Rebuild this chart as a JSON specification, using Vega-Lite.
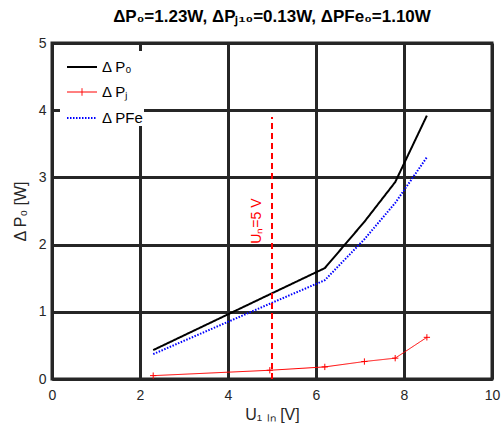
{
  "$schema": "https://vega.github.io/schema/vega-lite/v6.json",
  "width": 440,
  "height": 336,
  "autosize": "none",
  "padding": {"left": 52, "top": 43, "right": 10, "bottom": 53},
  "background": "white",
  "title": {
    "text": "ΔP₀=1.23W, ΔPⱼ₁₀=0.13W, ΔPFe₀=1.10W",
    "font": "Liberation Sans",
    "fontSize": 17,
    "fontWeight": "bold",
    "color": "#000000",
    "offset": 10
  },
  "config": {
    "view": {"stroke": "#262626", "strokeWidth": 3},
    "axis": {
      "labelFont": "Liberation Sans",
      "labelFontSize": 14,
      "labelColor": "#262626",
      "titleFont": "Liberation Sans",
      "titleFontSize": 16,
      "titleFontWeight": "normal",
      "titleColor": "#262626",
      "gridColor": "#262626",
      "gridWidth": 3,
      "gridOpacity": 1,
      "domainColor": "#262626",
      "domainWidth": 3,
      "ticks": false,
      "labelFlush": false
    }
  },
  "datasets": {
    "curves": [
      {"series": "Δ P₀", "u": 2.3, "p": 0.43},
      {"series": "Δ P₀", "u": 4.95, "p": 1.26},
      {"series": "Δ P₀", "u": 6.2, "p": 1.65},
      {"series": "Δ P₀", "u": 7.1, "p": 2.34},
      {"series": "Δ P₀", "u": 7.8, "p": 2.93},
      {"series": "Δ P₀", "u": 8.52, "p": 3.92},
      {"series": "Δ Pⱼ", "u": 2.3, "p": 0.05},
      {"series": "Δ Pⱼ", "u": 4.95, "p": 0.13},
      {"series": "Δ Pⱼ", "u": 6.2, "p": 0.18},
      {"series": "Δ Pⱼ", "u": 7.1, "p": 0.26},
      {"series": "Δ Pⱼ", "u": 7.8, "p": 0.31},
      {"series": "Δ Pⱼ", "u": 8.52, "p": 0.62},
      {"series": "Δ PFe", "u": 2.3, "p": 0.37},
      {"series": "Δ PFe", "u": 4.95, "p": 1.12},
      {"series": "Δ PFe", "u": 6.2, "p": 1.47},
      {"series": "Δ PFe", "u": 7.1, "p": 2.08},
      {"series": "Δ PFe", "u": 7.8, "p": 2.62},
      {"series": "Δ PFe", "u": 8.52, "p": 3.3}
    ],
    "marker": [
      {"u": 5, "p0": 0, "p1": 3.9, "label": "Uₙ=5 V", "py": 2.35}
    ]
  },
  "layer": [
    {
      "data": {"name": "curves"},
      "mark": {"type": "line"},
      "encoding": {
        "x": {
          "field": "u", "type": "quantitative",
          "scale": {"domain": [0, 10], "nice": false},
          "axis": {"values": [0, 2, 4, 6, 8, 10], "format": "d", "title": "U₁ ₗₙ [V]", "labelPadding": 9, "titlePadding": 4}
        },
        "y": {
          "field": "p", "type": "quantitative",
          "scale": {"domain": [0, 5], "nice": false},
          "axis": {"values": [0, 1, 2, 3, 4, 5], "format": "d", "title": "Δ P₀ [W]", "labelPadding": 6, "titlePadding": 10}
        },
        "color": {
          "field": "series", "type": "nominal",
          "scale": {"domain": ["Δ P₀", "Δ Pⱼ", "Δ PFe"], "range": ["#000000", "#ff0000", "#0000ff"]},
          "legend": {
            "title": null,
            "orient": "top-left",
            "offset": 8,
            "symbolOffset": 6,
            "labelFont": "Liberation Sans",
            "labelFontSize": 15,
            "labelColor": "#000000",
            "symbolSize": 900,
            "symbolStrokeWidth": 2,
            "rowPadding": 1.5,
            "labelOffset": 4,
            "fillColor": "white",
            "encode": {
              "symbols": {
                "update": {
                  "shape": {"signal": "datum.value === 'Δ Pⱼ' ? 'M-1,0H1M0,-0.25V0.25' : 'stroke'"},
                  "strokeWidth": {"signal": "datum.value === 'Δ Pⱼ' ? 1 : 2"}
                }
              }
            }
          }
        },
        "strokeDash": {
          "field": "series", "type": "nominal",
          "scale": {"domain": ["Δ P₀", "Δ Pⱼ", "Δ PFe"], "range": [[1, 0], [1, 0], [1.5, 1.5]]},
          "legend": {"title": null}
        },
        "strokeWidth": {
          "field": "series", "type": "nominal",
          "scale": {"type": "ordinal", "domain": ["Δ P₀", "Δ Pⱼ", "Δ PFe"], "range": [2, 1, 2]},
          "legend": null
        }
      }
    },
    {
      "data": {"name": "curves"},
      "transform": [{"filter": "datum.series === 'Δ Pⱼ'"}],
      "mark": {"type": "point", "shape": "M-1,0H1M0,-1V1", "filled": false, "color": "#ff0000", "size": 40, "strokeWidth": 1, "opacity": 1},
      "encoding": {
        "x": {"field": "u", "type": "quantitative"},
        "y": {"field": "p", "type": "quantitative"}
      }
    },
    {
      "data": {"name": "marker"},
      "mark": {"type": "rule", "color": "#ff0000", "strokeWidth": 2, "strokeDash": [6, 4]},
      "encoding": {
        "x": {"field": "u", "type": "quantitative"},
        "y": {"field": "p0", "type": "quantitative"},
        "y2": {"field": "p1"}
      }
    },
    {
      "data": {"name": "marker"},
      "mark": {"type": "text", "color": "#ff0000", "angle": 270, "font": "Liberation Sans", "fontSize": 14, "baseline": "middle", "align": "center", "dy": -15},
      "encoding": {
        "x": {"field": "u", "type": "quantitative"},
        "y": {"field": "py", "type": "quantitative"},
        "text": {"field": "label"}
      }
    }
  ]
}
